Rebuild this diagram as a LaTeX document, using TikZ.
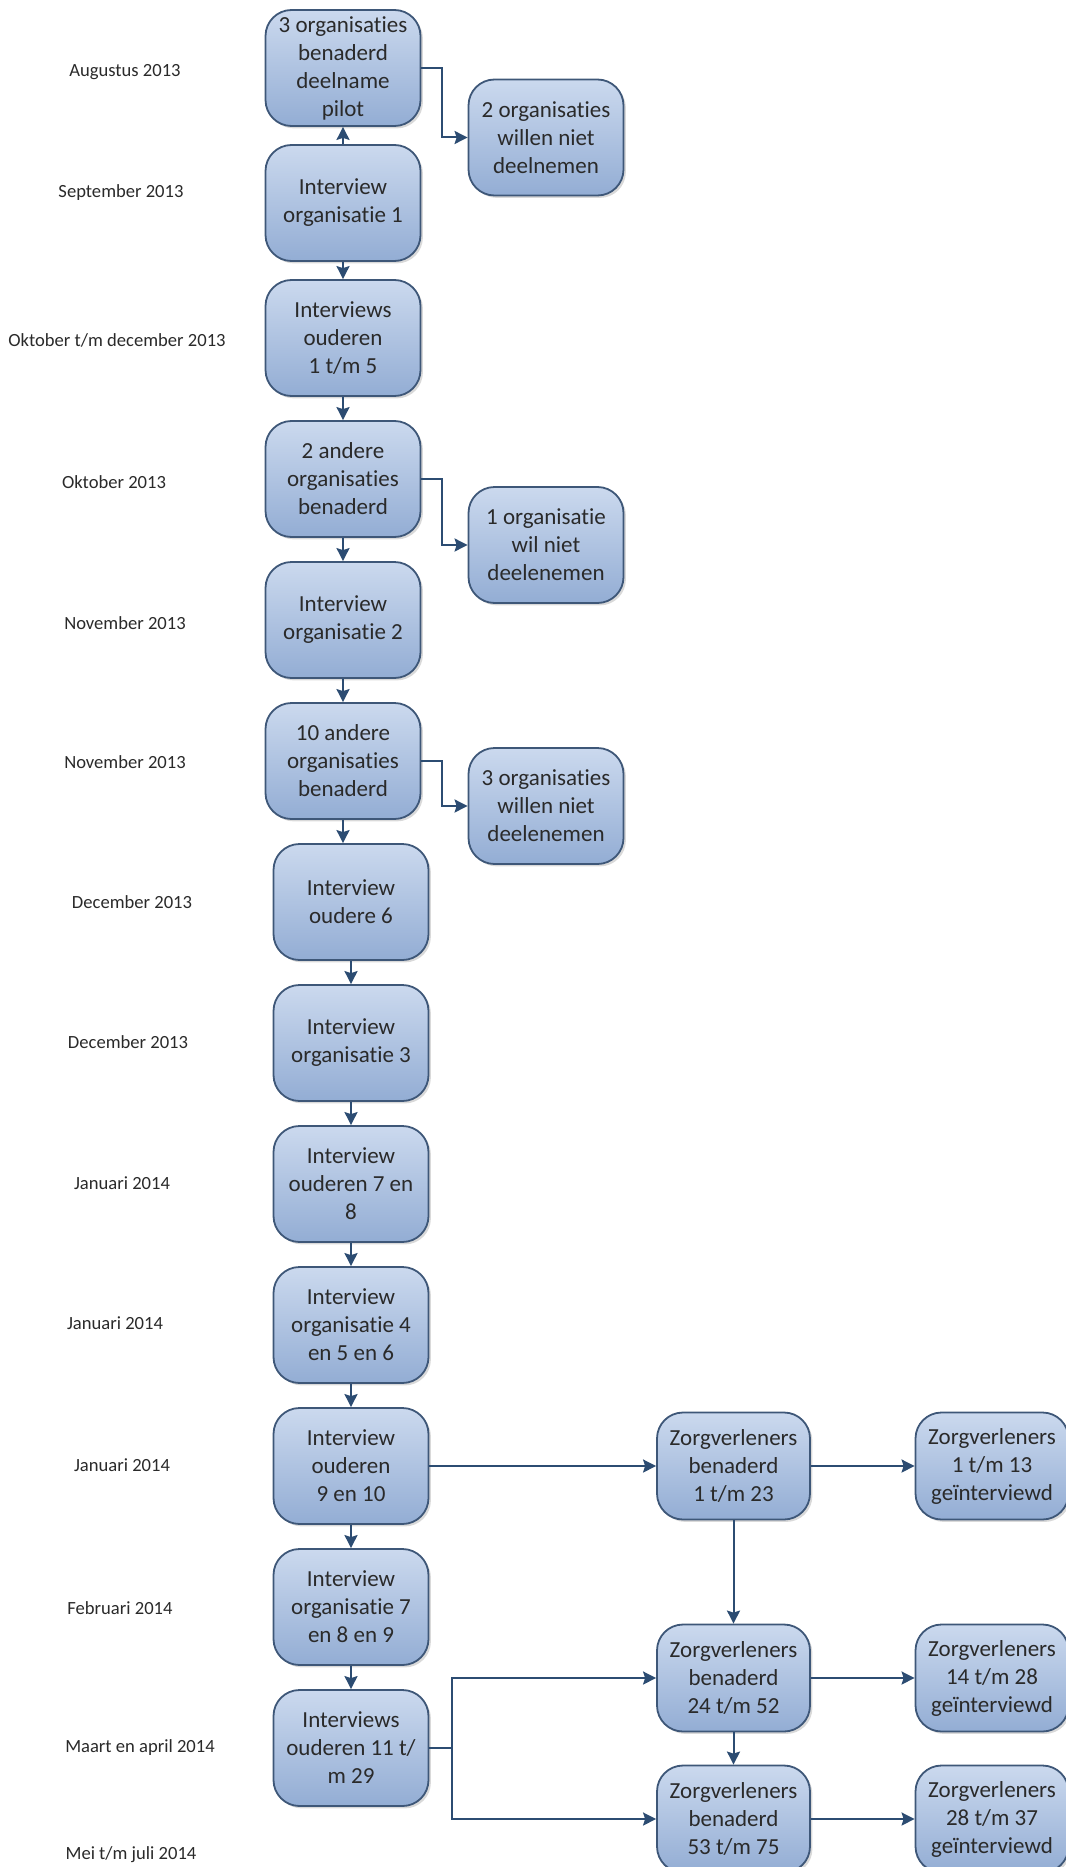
\documentclass[tikz,border=0pt]{standalone}
\usepackage{fontspec}
\setmainfont{Carlito}[Ligatures=NoCommon]
\usetikzlibrary{arrows.meta, shadows}

\definecolor{boxtop}{HTML}{CBD9EE}
\definecolor{boxbottom}{HTML}{93ADD4}
\definecolor{boxline}{HTML}{3E5778}
\definecolor{flowline}{HTML}{2C4C72}
\definecolor{boxtext}{HTML}{2A2A2A}

\tikzstyle{stage} = [
    rectangle,
    rounded corners=13pt,
    minimum width=77.5pt,
    minimum height=58pt,
    inner sep=1pt,
    align=center,
    draw=boxline,
    line width=0.9pt,
    top color=boxtop,
    bottom color=boxbottom,
    text=boxtext,
    font=\fontsize{11.5}{14}\selectfont,
    drop shadow={opacity=0.3, shadow xshift=1.2pt, shadow yshift=-1.2pt}
]
\tikzstyle{care} = [
    stage,
    minimum width=76.5pt,
    minimum height=53.5pt
]
\tikzstyle{datelabel} = [
    text=boxtext,
    font=\fontsize{9.3}{11}\selectfont
]
\tikzstyle{arrow} = [line width=1pt, draw=flowline, -{Stealth[length=6.5pt, width=6.5pt, inset=1pt]}]

\begin{document}
\begin{tikzpicture}[x=0.5pt, y=-0.5pt, node distance=70.5pt]

\useasboundingbox (0,0) rectangle (1065,1867);

% tijdlijn
\node (b1) [stage] at (343,68) {3 organisaties\\benaderd\\deelname\\pilot};

\node (b2) [stage, below of=b1, yshift=3pt] {Interview\\organisatie 1};

\node (b3) [stage, below of=b2, yshift=3pt] {Interviews\\ouderen\\1 t/m 5};

\node (b4) [stage, below of=b3] {2 andere\\organisaties\\benaderd};

\node (b5) [stage, below of=b4] {Interview\\organisatie 2};

\node (b6) [stage, below of=b5] {10 andere\\organisaties\\benaderd};

\node (b7) [stage, below of=b6, xshift=4pt] {Interview\\oudere 6};

\node (b8) [stage, below of=b7] {Interview\\organisatie 3};

\node (b9) [stage, below of=b8] {Interview\\ouderen 7 en\\8};

\node (b10) [stage, below of=b9] {Interview\\organisatie 4\\en 5 en 6};

\node (b11) [stage, below of=b10] {Interview\\ouderen\\9 en 10};

\node (b12) [stage, below of=b11] {Interview\\organisatie 7\\en 8 en 9};

\node (b13) [stage, below of=b12] {Interviews\\ouderen 11 t/\\m 29};

% afvallers
\node (s1) [stage, right of=b1, xshift=31pt, yshift=-34.75pt] {2 organisaties\\willen niet\\deelnemen};

\node (s2) [stage, right of=b4, xshift=31pt, yshift=-33pt] {1 organisatie\\wil niet\\deelenemen};

\node (s3) [stage, right of=b6, xshift=31pt, yshift=-22.5pt] {3 organisaties\\willen niet\\deelenemen};

% zorgverleners
\node (z1) [care, right of=b11, xshift=120.75pt] {Zorgverleners\\benaderd\\1 t/m 23};

\node (z2) [care, below of=z1, yshift=-35.5pt] {Zorgverleners\\benaderd\\24 t/m 52};

\node (z3) [care, below of=z2] {Zorgverleners\\benaderd\\53 t/m 75};

\node (r1) [care, right of=z1, xshift=58.75pt] {Zorgverleners\\1 t/m 13\\geïnterviewd};

\node (r2) [care, right of=z2, xshift=58.75pt] {Zorgverleners\\14 t/m 28\\geïnterviewd};

\node (r3) [care, right of=z3, xshift=58.75pt] {Zorgverleners\\28 t/m 37\\geïnterviewd};

% maanden
\node (d1) [datelabel] at (125,72) {Augustus 2013};
\node (d2) [datelabel] at (121,193) {September 2013};
\node (d3) [datelabel] at (117,340) {Oktober t/m december 2013};
\node (d4) [datelabel] at (114,482) {Oktober 2013};
\node (d5) [datelabel] at (125,623) {November 2013};
\node (d6) [datelabel] at (125,762) {November 2013};
\node (d7) [datelabel] at (132,902) {December 2013};
\node (d8) [datelabel] at (128,1042) {December 2013};
\node (d9) [datelabel] at (122,1183) {Januari 2014};
\node (d10) [datelabel] at (115,1323) {Januari 2014};
\node (d11) [datelabel] at (122,1465) {Januari 2014};
\node (d12) [datelabel] at (120,1608) {Februari 2014};
\node (d13) [datelabel] at (140,1748) {Maart en april 2014};
\node (d14) [datelabel] at (131,1855) {Mei t/m juli 2014};

\draw [arrow] (b2) -- (b1);
\draw [arrow] (b2) -- (b3);
\draw [arrow] (b3) -- (b4);
\draw [arrow] (b4) -- (b5);
\draw [arrow] (b5) -- (b6);
\draw [arrow] (b6.south) -- (b6.south |- b7.north);
\draw [arrow] (b7) -- (b8);
\draw [arrow] (b8) -- (b9);
\draw [arrow] (b9) -- (b10);
\draw [arrow] (b10) -- (b11);
\draw [arrow] (b11) -- (b12);
\draw [arrow] (b12) -- (b13);

\draw [arrow] (b1.east) -- ++(10.5pt,0) |- (s1.west);
\draw [arrow] (b4.east) -- ++(10.5pt,0) |- (s2.west);
\draw [arrow] (b6.east) -- ++(10.5pt,0) |- (s3.west);

\draw [arrow] (b11) -- (z1);
\draw [arrow] (b13.east) -- ++(11.5pt,0) |- (z2.west);
\draw [arrow] (b13.east) -- ++(11.5pt,0) |- (z3.west);

\draw [arrow] (z1) -- (z2);
\draw [arrow] (z2) -- (z3);
\draw [arrow] (z1) -- (r1);
\draw [arrow] (z2) -- (r2);
\draw [arrow] (z3) -- (r3);

\end{tikzpicture}
\end{document}
